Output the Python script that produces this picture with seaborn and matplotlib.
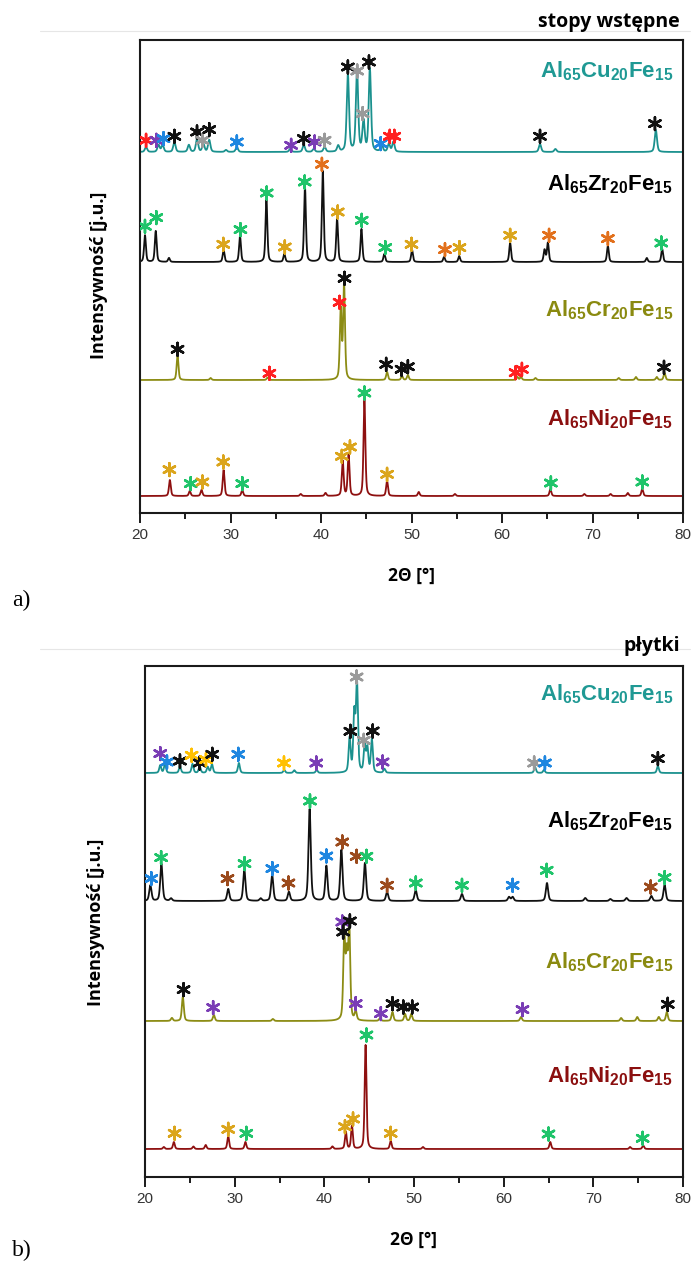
import numpy as np
import pandas as pd
import matplotlib
matplotlib.use("Agg")
import matplotlib.pyplot as plt
import seaborn as sns

# ---------------- data: panel a (stopy wstepne) ----------------
a_cu_pos = [20.67, 22.05, 22.5, 23.8, 25.4, 26.3, 27.0, 27.65, 29.5, 30.7, 36.6, 38.1, 39.2, 40.4, 41.9,
            42.97, 43.98, 44.7, 45.4, 46.7, 47.5, 48.0, 64.2, 65.9, 77.0]
a_cu_int = [5, 7, 7, 10, 7, 13, 8, 12, 2, 5, 3, 7, 3, 5, 6, 77, 82, 30, 83, 7, 8, 10, 8, 3, 22]
a_zr_pos = [20.55, 21.74, 23.2, 29.24, 31.05, 33.97, 35.95, 38.23, 40.2, 41.78, 44.47, 47.0, 50.06,
            53.6, 55.27, 60.9, 64.7, 65.07, 71.7, 76.0, 77.7]
a_zr_int = [26.7, 31, 4, 12, 26, 63, 8, 75, 91, 43, 33, 8, 12, 5, 6, 19, 12, 19, 16, 4, 13]
a_cr_pos = [24.15, 27.8, 34.1, 42.18, 42.55, 47.3, 48.95, 49.6, 61.7, 62.1, 63.7, 72.9, 74.8, 77.1, 77.96]
a_cr_int = [24, 2, 2.5, 70, 95, 8, 4, 5, 3, 3, 2, 2, 3, 3, 7]
a_ni_pos = [23.3, 25.5, 26.8, 29.24, 31.3, 37.76, 40.5, 42.4, 43.05, 44.8, 47.3, 50.8, 54.8, 65.35,
            69.1, 72.0, 73.9, 75.5]
a_ni_int = [16, 5, 6, 26, 6, 2, 3, 35, 41, 96, 15, 4, 2, 7, 2, 2, 3, 7]

a_cu_star_pos = [20.67, 21.8, 22.6, 23.8, 26.3, 26.9, 27.65, 30.7, 36.7, 38.1, 39.3, 40.4, 42.97, 44.0,
                 44.6, 45.3, 46.6, 47.6, 48.1, 64.2, 76.9]
a_cu_star_int = [11.7, 11.7, 13.4, 15.7, 20, 11.7, 22.4, 10, 6.7, 13.4, 10, 11.7, 85, 81, 38.4, 90,
                 8.4, 15.7, 15.7, 15.7, 28.4]
a_cu_star_ph = ['r', 'p', 'b', 'k', 'k', 's', 'k', 'b', 'p', 'k', 'p', 's', 'k', 's', 's', 'k', 'b',
                'r', 'r', 'k', 'k']
a_zr_star_pos = [20.55, 21.8, 29.2, 31.1, 34.0, 36.0, 38.2, 40.1, 41.85, 44.5, 47.1, 50.0, 53.7, 55.3,
                 60.9, 65.2, 71.7, 77.6]
a_zr_star_int = [35.7, 44.4, 17.7, 32.4, 69, 15, 80, 97.7, 50, 41.7, 14.4, 17.7, 12.4, 14.4, 26.7,
                 26.7, 23.4, 19]
a_zr_star_ph = ['g', 'g', 'y', 'g', 'g', 'y', 'g', 'o', 'y', 'g', 'g', 'y', 'o', 'y', 'y', 'o', 'o', 'g']
a_cr_star_pos = [24.15, 34.3, 42.05, 42.6, 47.2, 48.9, 49.6, 61.5, 62.2, 77.9]
a_cr_star_int = [30.7, 6.7, 77.7, 101.7, 15.7, 10.7, 13.3, 7.3, 10.7, 12.7]
a_cr_star_ph = ['k', 'r', 'r', 'k', 'k', 'k', 'k', 'r', 'r', 'k']
a_ni_star_pos = [23.25, 25.6, 26.9, 29.2, 31.3, 42.3, 43.2, 44.8, 47.3, 65.4, 75.5]
a_ni_star_int = [26.4, 12.4, 14, 34, 12.4, 39.7, 49, 103, 21.7, 13, 14]
a_ni_star_ph = ['y', 'g', 'y', 'y', 'g', 'y', 'y', 'g', 'y', 'g', 'g']

# ---------------- data: panel b (plytki) ----------------
b_cu_pos = [21.7, 22.23, 23.9, 25.3, 26.1, 27.0, 27.47, 30.47, 35.53, 36.65, 39.15, 42.82, 43.34, 43.64,
            44.5, 44.8, 45.3, 46.7, 63.5, 64.5, 77.2]
b_cu_int = [7.7, 9, 6.7, 9, 6.7, 6, 8.7, 10, 3, 2.7, 3, 34, 58, 89, 26, 24, 33, 4, 6, 3, 7]
b_zr_pos = [20.6, 21.83, 22.9, 29.28, 31.08, 32.9, 34.18, 36.05, 38.36, 40.23, 41.9, 44.53, 47.0, 50.19,
            55.35, 60.6, 61.0, 64.83, 69.1, 71.9, 73.7, 76.47, 77.95]
b_zr_int = [15.7, 37, 2.5, 12, 31, 2.5, 26, 9, 92, 35, 51, 38, 9, 11, 7, 4, 4, 18, 3, 2, 3, 5, 16]
b_cr_pos = [23.0, 24.22, 27.68, 34.26, 42.22, 42.5, 42.78, 43.5, 46.2, 47.6, 49.0, 49.7, 61.93, 73.1,
            74.9, 77.3, 78.2]
b_cr_int = [3, 24, 6, 2, 82, 60, 92, 9, 2.5, 9, 7, 7, 4, 3, 4, 4, 9]
b_ni_pos = [22.1, 23.22, 25.4, 26.77, 29.28, 31.2, 40.9, 42.4, 43.08, 44.6, 47.4, 51.0, 65.2, 74.1, 75.56]
b_ni_int = [2, 7, 2.5, 4, 13, 7, 2.5, 17, 23, 104, 8, 2, 7, 2, 3.5]

b_cu_star_pos = [21.7, 22.45, 23.9, 25.2, 26.1, 26.8, 27.5, 30.4, 35.5, 39.1, 42.9, 43.6, 44.4, 45.4,
                 46.5, 63.4, 64.6, 77.2]
b_cu_star_int = [19.4, 11, 12, 17.7, 10, 13.4, 18.7, 18.7, 10, 10, 41.7, 96, 32.7, 42, 11, 10, 10, 14.4]
b_cu_star_ph = ['p', 'b', 'k', 'l', 'k', 'l', 'k', 'b', 'l', 'p', 'k', 's', 's', 'k', 'p', 's', 'b', 'k']
b_zr_star_pos = [20.7, 21.8, 29.2, 31.1, 34.2, 36.0, 38.4, 40.23, 42.0, 43.6, 44.7, 47.0, 50.2, 55.35,
                 61.0, 64.8, 76.4, 77.95]
b_zr_star_int = [22.4, 43.4, 22.4, 37.4, 32.4, 18, 100, 45, 59, 44.7, 44.7, 15.7, 18, 15.7, 15.7, 30.7,
                 14, 23.4]
b_zr_star_ph = ['b', 'g', 'n', 'g', 'b', 'n', 'g', 'b', 'n', 'n', 'g', 'n', 'g', 'g', 'b', 'g', 'n', 'g']
b_cr_star_pos = [24.3, 27.6, 42.0, 42.1, 42.85, 43.5, 46.3, 47.6, 48.8, 49.8, 62.1, 78.3]
b_cr_star_int = [31.4, 13.4, 99, 89, 100, 17.4, 7.4, 17.4, 14, 14, 11.4, 16.7]
b_cr_star_ph = ['k', 'p', 'p', 'k', 'k', 'p', 'p', 'k', 'k', 'k', 'p', 'k']
b_ni_star_pos = [23.3, 29.28, 31.3, 42.3, 43.2, 44.7, 47.4, 65.0, 75.5]
b_ni_star_int = [15.7, 19.7, 15.7, 22.3, 30, 114, 15.7, 15, 10.7]
b_ni_star_ph = ['y', 'y', 'g', 'y', 'y', 'g', 'y', 'g', 'g']

sample_labels = [r"$\mathbf{Al_{65}Cu_{20}Fe_{15}}$", r"$\mathbf{Al_{65}Zr_{20}Fe_{15}}$",
                 r"$\mathbf{Al_{65}Cr_{20}Fe_{15}}$", r"$\mathbf{Al_{65}Ni_{20}Fe_{15}}$"]
x_ticks = [20, 30, 40, 50, 60, 70, 80]

# ---------------- style ----------------
sns.set_theme(style="ticks")
plt.rcParams['font.family'] = ['Liberation Sans', 'DejaVu Sans']
plt.rcParams['mathtext.fontset'] = 'custom'
plt.rcParams['mathtext.bf'] = 'Liberation Sans:bold'
plt.rcParams['mathtext.rm'] = 'Liberation Sans'

line_colors = ['#1b918e', '#111111', '#8c8c14', '#8e1010']
label_colors = ['#1f9994', '#000000', '#8a8a10', '#8b0f0f']
phase_colors = {'r': '#ff2020', 'p': '#7a3db5', 'b': '#1e86e0', 'k': '#111111', 's': '#9a9a9a',
                'g': '#1fc46a', 'y': '#dba51c', 'o': '#e2701c', 'n': '#9b4a1c', 'l': '#ffc000'}

W, H = 693, 1281
fig = plt.figure(figsize=(W / 100, H / 100), dpi=100)


def ax_rect(l, r, t, b):
    return [l / W, 1 - b / H, (r - l) / W, (b - t) / H]


x = np.linspace(20, 80, 4001)


def profile(pos, inten, fwhm):
    y = np.zeros_like(x)
    g = fwhm / 2.0
    for p, h in zip(pos, inten):
        lor = 1.0 / (1.0 + ((x - p) / g) ** 2)
        gau = np.exp(-np.log(2) * ((x - p) / g) ** 2)
        y += h * (0.45 * lor + 0.55 * gau)
    return y


def draw_panel(ax, patterns, stars, offsets, widths, ytop, label_y):
    for i, ((pos, inten), (sp, si, sph), off, w) in enumerate(zip(patterns, stars, offsets, widths)):
        y = profile(pos, inten, w) + off
        df = pd.DataFrame({'2theta': x, 'I': y})
        sns.lineplot(data=df, x='2theta', y='I', ax=ax, color=line_colors[i], linewidth=1.3,
                     estimator=None, sort=False)
        ax.scatter(sp, np.array(si) + off, marker=(6, 2, 0), s=85, linewidths=1.8,
                   c=[phase_colors[c] for c in sph], zorder=5)
        ax.text(78.9, label_y[i], sample_labels[i], ha='right', va='baseline', fontsize=16,
                color=label_colors[i])
    ax.set_xlim(20, 80)
    ax.set_ylim(0, ytop)
    ax.set_xticks(x_ticks)
    ax.set_xticks(np.arange(25, 80, 10), minor=True)
    ax.set_yticks([])
    ax.set_xlabel('')
    ax.set_ylabel('')
    for s in ax.spines.values():
        s.set_visible(True)
        s.set_linewidth(1.5)
        s.set_color('#1a1a1a')
    ax.tick_params(axis='x', which='major', direction='out', length=7, width=1.4, labelsize=11,
                   labelcolor='#333333', color='#1a1a1a', pad=4)
    ax.tick_params(axis='x', which='minor', direction='out', length=4, width=1.4, color='#1a1a1a')
    ax.tick_params(axis='x', top=False, which='both')


axa = fig.add_axes(ax_rect(140, 683, 40, 513))
draw_panel(axa,
           [(a_cu_pos, a_cu_int), (a_zr_pos, a_zr_int), (a_cr_pos, a_cr_int), (a_ni_pos, a_ni_int)],
           [(a_cu_star_pos, a_cu_star_int, a_cu_star_ph), (a_zr_star_pos, a_zr_star_int, a_zr_star_ph),
            (a_cr_star_pos, a_cr_star_int, a_cr_star_ph), (a_ni_star_pos, a_ni_star_int, a_ni_star_ph)],
           [361, 251, 133, 17], [0.3, 0.24, 0.24, 0.24], 473, [436, 323, 197, 88])

axb = fig.add_axes(ax_rect(145, 683, 666, 1177))
draw_panel(axb,
           [(b_cu_pos, b_cu_int), (b_zr_pos, b_zr_int), (b_cr_pos, b_cr_int), (b_ni_pos, b_ni_int)],
           [(b_cu_star_pos, b_cu_star_int, b_cu_star_ph), (b_zr_star_pos, b_zr_star_int, b_zr_star_ph),
            (b_cr_star_pos, b_cr_star_int, b_cr_star_ph), (b_ni_star_pos, b_ni_star_int, b_ni_star_ph)],
           [404, 276, 156, 28], [0.26, 0.3, 0.26, 0.24], 511, [477, 350, 209, 95])


def ftext(xp, yp, s, **kw):
    fig.text(xp / W, 1 - yp / H, s, color='black', **kw)


bold_font = ['Open Sans', 'DejaVu Sans']
ftext(680, 22, 'stopy wstępne', ha='right', va='center', fontsize=14, fontweight='bold', family=bold_font)
ftext(680, 646, 'płytki', ha='right', va='center', fontsize=14, fontweight='bold', family=bold_font)
ftext(411, 576, '2Θ [°]', ha='center', va='center', fontsize=12.5, fontweight='bold', family=bold_font)
ftext(414, 1240, '2Θ [°]', ha='center', va='center', fontsize=12.5, fontweight='bold', family=bold_font)
ftext(99, 275, 'Intensywność [j.u.]', ha='center', va='center', rotation=90, fontsize=13,
      fontweight='bold', family=bold_font)
ftext(96, 922, 'Intensywność [j.u.]', ha='center', va='center', rotation=90, fontsize=13,
      fontweight='bold', family=bold_font)
ftext(12, 600, 'a)', ha='left', va='center', fontsize=17, family=['Liberation Serif', 'DejaVu Serif'])
ftext(12, 1250, 'b)', ha='left', va='center', fontsize=17, family=['Liberation Serif', 'DejaVu Serif'])

for yy in (31, 649):
    fig.add_artist(plt.Line2D([40 / W, 690 / W], [1 - yy / H, 1 - yy / H], color='#e6e6e6', linewidth=0.8))

fig.savefig('out.png', dpi=100)
